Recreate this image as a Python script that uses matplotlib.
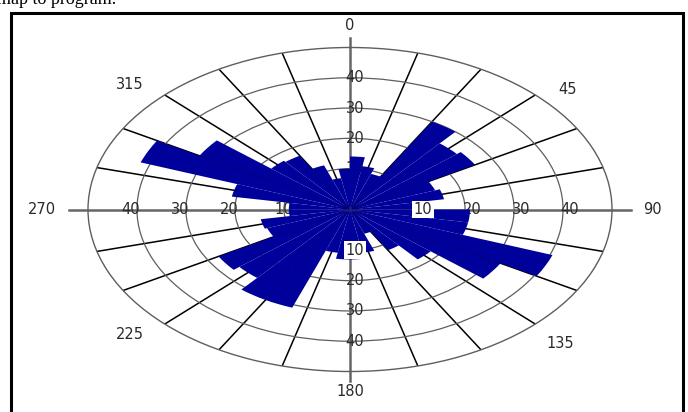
import numpy as np
import matplotlib
matplotlib.use('Agg')
import matplotlib.pyplot as plt
from matplotlib.patches import Rectangle
from matplotlib.transforms import offset_copy

# rose diagram, 10 degree bins starting at north, clockwise
bin_start = np.arange(0, 360, 10)
counts = np.array([14, 11, 9, 30, 25, 26, 15, 16, 11,
                   21, 21, 40.5, 32, 18, 12, 5, 11, 13,
                   13, 11, 31, 31, 26, 27.5, 14.5, 15, 9,
                   9, 21, 42, 32, 17.5, 17, 12, 7, 10])
ring_values = [10, 20, 30, 40]
angle_labels = ['0', '45', '90', '135', '180', '225', '270', '315']

rmin, rmax = -3.5, 50
navy = '#00009A'
txt = '#2a2a2a'
fs = 10.5

fig = plt.figure(figsize=(6.88, 4.12), dpi=100)
ax = fig.add_axes([88 / 688, 40.5 / 412, 524 / 688, 324 / 412], projection='polar')
ax.set_aspect('auto')
ax.set_theta_zero_location('N')
ax.set_theta_direction(-1)
ax.set_ylim(rmin, rmax)

ax.set_yticks(ring_values)
ax.set_yticklabels([])
ax.set_xticks([])
ax.yaxis.grid(True, color='#5e5e5e', lw=0.9)
ax.spines['polar'].set_color('#5e5e5e')
ax.spines['polar'].set_linewidth(1.0)

# spokes every 15 degrees
for a in range(15, 360, 15):
    if a % 90 == 0:
        continue
    ax.plot([np.deg2rad(a)] * 2, [rmin, rmax], color='black', lw=1.1, zorder=1)

# main axes lines
for a, ext in [(0, 53.2), (90, 53.8), (180, 53.2), (270, 53.8)]:
    ax.plot([np.deg2rad(a)] * 2, [rmin, ext], color='#666666', lw=1.8,
            zorder=1.5, clip_on=False)

ax.bar(np.deg2rad(bin_start), counts - rmin, bottom=rmin, width=np.deg2rad(10),
       align='edge', color=navy, edgecolor='none', zorder=3)

# radial labels
tf = offset_copy(ax.transData, fig=fig, x=5, y=0, units='dots')
for v in ring_values:
    box = dict(facecolor='white', edgecolor='none', pad=1) if v == 10 else None
    ax.text(np.deg2rad(90), v + 1.4, str(v), ha='center', va='center', fontsize=fs,
            color=txt, zorder=4 if v == 10 else 2, bbox=box)
    ax.text(np.deg2rad(270), v + (0 if v == 10 else 1.2), str(v), ha='center',
            va='center', fontsize=fs, color=txt, zorder=2)
    ax.text(np.deg2rad(0), v, str(v), ha='center', va='center', fontsize=fs,
            color=txt, zorder=2, transform=tf)
    ax.text(np.deg2rad(180), v, str(v), ha='center', va='center', fontsize=fs,
            color=txt, zorder=4 if v == 10 else 2, bbox=box, transform=tf)

# compass labels (angle, radius) just outside the outer ring
label_pos = [(0, 57.3), (48.4, 56.0), (90, 58.2), (135.8, 58.0),
             (180, 56.6), (227.3, 57.6), (270, 59.4), (312.5, 57.4)]
for s, (a, r) in zip(angle_labels, label_pos):
    ax.text(np.deg2rad(a), r, s, ha='center', va='center',
            fontsize=fs, color=txt, clip_on=False)

# frame around the picture and cut-off caption above it
fig.patches.append(Rectangle((11 / 688, -0.05), 672 / 688, 1 - 13 / 412 + 0.05,
                             transform=fig.transFigure, fill=False,
                             edgecolor='black', lw=2.2))
fig.text(-3 / 688, 1 - 4 / 412, 'map to program.', family='Liberation Serif',
         fontsize=13, ha='left', va='baseline')

fig.savefig('out.png', dpi=100)
